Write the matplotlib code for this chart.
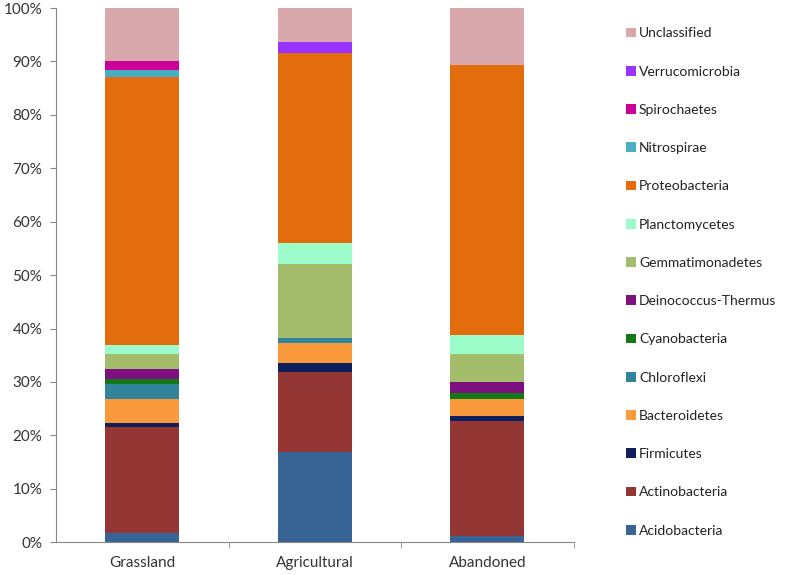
import matplotlib.pyplot as plt
from matplotlib.patches import Patch

# Sites along the x axis
sites = ["Grassland", "Agricultural", "Abandoned"]

# Phyla, bottom to top of each stack
phyla = ["Acidobacteria", "Actinobacteria", "Firmicutes", "Bacteroidetes",
         "Chloroflexi", "Cyanobacteria", "Deinococcus-Thermus",
         "Gemmatimonadetes", "Planctomycetes", "Proteobacteria",
         "Nitrospirae", "Spirochaetes", "Verrucomicrobia", "Unclassified"]

# Relative abundance (%) per site, same order as phyla
grassland = [1.8, 19.8, 0.7, 4.6, 2.7, 1.0, 1.9, 2.7, 1.8, 50.0, 1.4, 1.7, 0.0, 9.9]
agricultural = [16.8, 15.0, 1.8, 3.7, 1.0, 0.0, 0.0, 13.8, 4.0, 35.5, 0.0, 0.0, 2.0, 6.4]
abandoned = [1.2, 21.5, 0.9, 3.3, 0.0, 1.1, 2.0, 5.3, 3.5, 50.5, 0.0, 0.0, 0.0, 10.7]

colors = ["#386496", "#943634", "#0f1e5c", "#fb9a3d", "#31849b", "#117a17",
          "#7e0f7e", "#a3bd6c", "#9cfdcb", "#e36c0c", "#4bacc6", "#cc0099",
          "#9933ff", "#d8a8ac"]

plt.rcParams['font.family'] = ['Lato', 'DejaVu Sans']

fig = plt.figure(figsize=(7.9, 5.75), dpi=100)
ax = fig.add_axes([0.071, 0.057, 0.655, 0.929])

data = [grassland, agricultural, abandoned]
x = range(len(sites))
bottoms = [0.0] * len(sites)
for i, name in enumerate(phyla):
    vals = [d[i] for d in data]
    ax.bar(x, vals, width=0.43, bottom=bottoms, color=colors[i], linewidth=0)
    bottoms = [b + v for b, v in zip(bottoms, vals)]

ax.set_xlim(-0.5, 2.5)
ax.set_ylim(0, 100)
ax.set_yticks(range(0, 101, 10))
ax.set_yticklabels([f"{v}%" for v in range(0, 101, 10)])
ax.set_xticks(list(x))
ax.set_xticklabels(sites)
ax.set_xticks([0.5, 1.5, 2.5], minor=True)
ax.tick_params(axis='x', which='major', length=0, pad=10)
ax.tick_params(axis='x', which='minor', length=4, color='#888888')
ax.tick_params(axis='y', length=4, color='#888888', pad=6)
ax.tick_params(labelsize=11, labelcolor='#333333')

for side in ['top', 'right']:
    ax.spines[side].set_visible(False)
for side in ['left', 'bottom']:
    ax.spines[side].set_color('#888888')

# Legend in reverse order, Unclassified at the top
handles = [Patch(facecolor=colors[i], edgecolor='none') for i in range(len(phyla))]
fig.legend(handles[::-1], phyla[::-1], loc='upper left',
           bbox_to_anchor=(0.777, 0.974), frameon=False, fontsize=10,
           labelspacing=1.89, handlelength=0.71, handleheight=0.71,
           handletextpad=0.2, labelcolor='#222222')

fig.savefig("out.png", dpi=100, facecolor='white')
